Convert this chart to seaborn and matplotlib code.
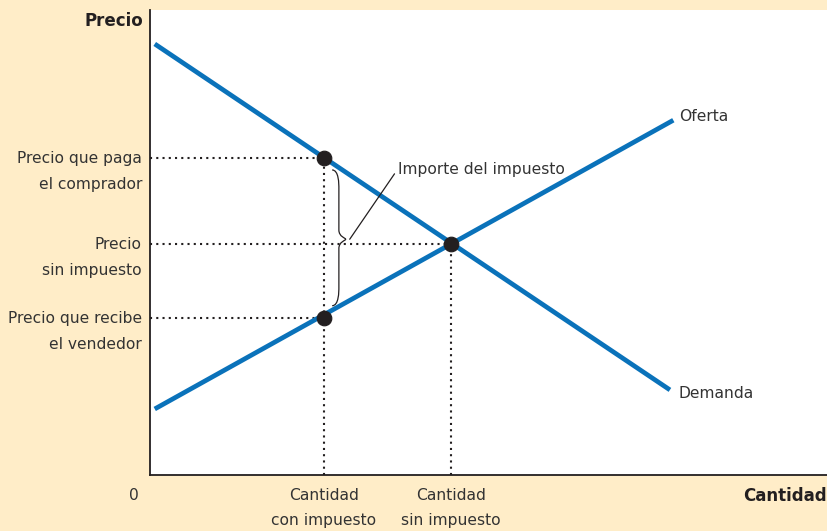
import matplotlib
matplotlib.use("Agg")
import matplotlib.pyplot as plt
from matplotlib.path import Path
from matplotlib.patches import PathPatch
import seaborn as sns
import pandas as pd

# data (abstract units, 0-100 on both axes)
demanda_x = [0.7, 76.8]
demanda_y = [92.7, 18.3]
oferta_x = [0.7, 77.3]
oferta_y = [14.2, 76.3]

q_con = 25.7
q_sin = 44.5
p_comprador = 68.2
p_sin = 49.7
p_vendedor = 33.8

puntos_x = [q_con, q_con, q_sin]
puntos_y = [p_comprador, p_vendedor, p_sin]

ytick_vals = [p_comprador, p_sin, p_vendedor]
ytick_labels = ["Precio que paga\nel comprador", "Precio\nsin impuesto", "Precio que recibe\nel vendedor"]
xtick_vals = [q_con, q_sin]
xtick_labels = ["Cantidad\ncon impuesto", "Cantidad\nsin impuesto"]

BG = "#FFEDC8"
BLUE = "#0A72BA"
INK = "#231F20"
TXT = "#333333"
FS = 11.2

sns.set_style("white")
plt.rcParams["font.family"] = ["DejaVu Sans"]

fig = plt.figure(figsize=(8.28, 5.31), dpi=100, facecolor=BG)
ax = fig.add_axes([150 / 828, 56 / 531, 677 / 828, 465 / 531])
ax.set_facecolor("white")
ax.set_xlim(0, 100)
ax.set_ylim(0, 100)

df_d = pd.DataFrame({"x": demanda_x, "y": demanda_y})
df_o = pd.DataFrame({"x": oferta_x, "y": oferta_y})
sns.lineplot(data=df_d, x="x", y="y", ax=ax, color=BLUE, linewidth=3.4, solid_capstyle="butt")
sns.lineplot(data=df_o, x="x", y="y", ax=ax, color=BLUE, linewidth=3.4, solid_capstyle="butt")

dots = (0, (1, 2))
for yv, xv in [(p_comprador, q_con), (p_sin, q_sin), (p_vendedor, q_con)]:
    ax.plot([0, xv], [yv, yv], color=INK, linewidth=1.5, linestyle=dots, zorder=1)
ax.plot([q_con, q_con], [0, p_comprador], color=INK, linewidth=1.5, linestyle=dots, zorder=1)
ax.plot([q_sin, q_sin], [0, p_sin], color=INK, linewidth=1.5, linestyle=dots, zorder=1)

sns.scatterplot(x=puntos_x, y=puntos_y, ax=ax, color=INK, s=110, edgecolor=INK, zorder=5)

# brace between the two prices
bx = q_con + 1.2
top = p_comprador - 2.6
bot = p_vendedor + 2.6
mid = p_sin + 1.0
w = 1.0
verts = [(bx, top), (bx + w, top), (bx + w, top - 3), (bx + w, top - 4),
         (bx + w, mid + 2), (bx + w, mid + 0.5), (bx + 2 * w, mid + 0.3), (bx + 2 * w, mid),
         (bx + 2 * w, mid - 0.3), (bx + w, mid - 0.5), (bx + w, mid - 2),
         (bx + w, bot + 4), (bx + w, bot + 3), (bx + w, bot), (bx, bot)]
codes = [Path.MOVETO, Path.CURVE4, Path.CURVE4, Path.CURVE4,
         Path.LINETO, Path.CURVE4, Path.CURVE4, Path.CURVE4,
         Path.CURVE4, Path.CURVE4, Path.CURVE4,
         Path.LINETO, Path.CURVE4, Path.CURVE4, Path.CURVE4]
ax.add_patch(PathPatch(Path(verts, codes), facecolor="none", edgecolor=INK, linewidth=0.9))

ax.annotate("Importe del impuesto", xy=(bx + 2 * w + 0.6, mid), xytext=(36.6, 65.8),
            fontsize=FS, color=TXT, va="center", ha="left",
            arrowprops=dict(arrowstyle="-", color=INK, linewidth=0.9, shrinkA=0, shrinkB=0,
                            relpos=(0, 0.5)))

ax.text(demanda_x[1] + 1.2, demanda_y[1] - 0.8, "Demanda", fontsize=FS, color=TXT, va="center", ha="left")
ax.text(oferta_x[1] + 0.8, oferta_y[1] + 0.8, "Oferta", fontsize=FS, color=TXT, va="center", ha="left")

ax.set_yticks(ytick_vals)
ax.set_yticklabels([])
ax.set_xticks(xtick_vals)
ax.set_xticklabels([])
ax.tick_params(length=0)
for yv, lab in zip(ytick_vals, ytick_labels):
    ax.annotate(lab, xy=(0, yv), xycoords=("axes fraction", "data"), xytext=(-8, 7),
                textcoords="offset pixels", ha="right", va="top", fontsize=FS,
                color=TXT, linespacing=1.9)
for xv, lab in zip(xtick_vals, xtick_labels):
    ax.annotate(lab, xy=(xv, 0), xycoords=("data", "axes fraction"), xytext=(0, -13),
                textcoords="offset pixels", ha="center", va="top", fontsize=FS,
                color=TXT, linespacing=1.85)
ax.annotate("0", xy=(0, 0), xycoords="axes fraction", xytext=(-16, -13),
            textcoords="offset pixels", ha="center", va="top", fontsize=FS, color=TXT)
ax.annotate("Cantidad", xy=(1, 0), xycoords="axes fraction", xytext=(0, -12),
            textcoords="offset pixels", ha="right", va="top", fontsize=12,
            color=INK, fontweight="bold")
ax.annotate("Precio", xy=(0, 1), xycoords="axes fraction", xytext=(-7, -2),
            textcoords="offset pixels", ha="right", va="top", fontsize=12,
            color=INK, fontweight="bold")

ax.set_xlabel("")
ax.set_ylabel("")
sns.despine(ax=ax)
for s in ["left", "bottom"]:
    ax.spines[s].set_color(INK)
    ax.spines[s].set_linewidth(1.3)

fig.savefig("out.png", dpi=100, facecolor=BG)
